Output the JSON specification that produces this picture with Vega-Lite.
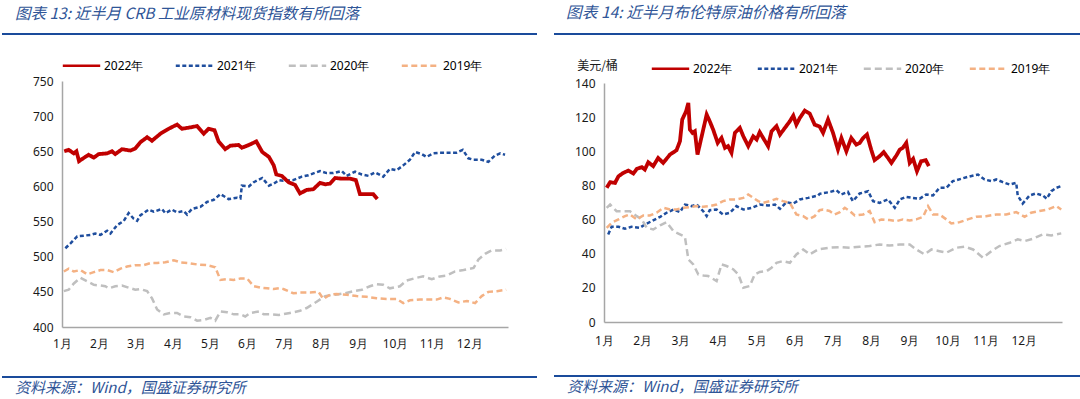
{
  "$schema": "https://vega.github.io/schema/vega-lite/v6.json",
  "background": "white",
  "padding": {"left": 2, "top": 5, "right": 0, "bottom": 0},
  "config": {
    "view": {"stroke": null},
    "font": "Noto Sans",
    "axis": {
      "domainColor": "#A6A6A6",
      "domainWidth": 1.5,
      "ticks": false,
      "grid": false,
      "labelColor": "#1a1a1a",
      "labelFont": "Noto Sans",
      "labelFontSize": 12,
      "labelPadding": 9,
      "title": null
    },
    "legend": {
      "orient": "none",
      "direction": "horizontal",
      "symbolType": "stroke",
      "symbolSize": 1400,
      "symbolStrokeWidth": 2.6,
      "labelFont": "Noto Sans",
      "labelFontSize": 12,
      "labelColor": "#000000",
      "labelOffset": 2,
      "padding": 0,
      "title": null
    }
  },
  "datasets": {
    "crb": [
      {"year":"2022年","m":1.06,"v":650},{"year":"2022年","m":1.18,"v":652},{"year":"2022年","m":1.32,"v":647},{"year":"2022年","m":1.39,"v":650},{"year":"2022年","m":1.46,"v":636},{"year":"2022年","m":1.63,"v":642},{"year":"2022年","m":1.72,"v":645},{"year":"2022年","m":1.86,"v":641},{"year":"2022年","m":1.99,"v":646},{"year":"2022年","m":2.22,"v":647},{"year":"2022年","m":2.35,"v":650},{"year":"2022年","m":2.44,"v":646},{"year":"2022年","m":2.62,"v":653},{"year":"2022年","m":2.85,"v":651},{"year":"2022年","m":2.98,"v":654},{"year":"2022年","m":3.12,"v":663},{"year":"2022年","m":3.3,"v":670},{"year":"2022年","m":3.43,"v":665},{"year":"2022年","m":3.66,"v":675},{"year":"2022年","m":3.88,"v":682},{"year":"2022年","m":4.11,"v":688},{"year":"2022年","m":4.24,"v":682},{"year":"2022年","m":4.47,"v":684},{"year":"2022年","m":4.65,"v":686},{"year":"2022年","m":4.83,"v":675},{"year":"2022年","m":4.96,"v":682},{"year":"2022年","m":5.12,"v":680},{"year":"2022年","m":5.23,"v":664},{"year":"2022年","m":5.41,"v":653},{"year":"2022年","m":5.55,"v":658},{"year":"2022年","m":5.77,"v":659},{"year":"2022年","m":5.86,"v":655},{"year":"2022年","m":6.05,"v":659},{"year":"2022年","m":6.25,"v":664},{"year":"2022年","m":6.41,"v":649},{"year":"2022年","m":6.59,"v":642},{"year":"2022年","m":6.72,"v":630},{"year":"2022年","m":6.79,"v":617},{"year":"2022年","m":6.94,"v":615},{"year":"2022年","m":7.12,"v":606},{"year":"2022年","m":7.3,"v":602},{"year":"2022年","m":7.43,"v":590},{"year":"2022年","m":7.61,"v":595},{"year":"2022年","m":7.79,"v":596},{"year":"2022年","m":7.97,"v":605},{"year":"2022年","m":8.11,"v":603},{"year":"2022年","m":8.24,"v":604},{"year":"2022年","m":8.38,"v":612},{"year":"2022年","m":8.56,"v":611},{"year":"2022年","m":8.78,"v":611},{"year":"2022年","m":8.94,"v":609},{"year":"2022年","m":9.05,"v":589},{"year":"2022年","m":9.23,"v":589},{"year":"2022年","m":9.41,"v":589},{"year":"2022年","m":9.52,"v":582},
      {"year":"2021年","m":1.09,"v":512},{"year":"2021年","m":1.23,"v":519},{"year":"2021年","m":1.41,"v":529},{"year":"2021年","m":1.59,"v":530},{"year":"2021年","m":1.77,"v":531},{"year":"2021年","m":1.9,"v":533},{"year":"2021年","m":2.04,"v":531},{"year":"2021年","m":2.22,"v":537},{"year":"2021年","m":2.31,"v":533},{"year":"2021年","m":2.49,"v":545},{"year":"2021年","m":2.67,"v":551},{"year":"2021年","m":2.8,"v":562},{"year":"2021年","m":2.94,"v":554},{"year":"2021年","m":3.03,"v":551},{"year":"2021年","m":3.12,"v":559},{"year":"2021年","m":3.34,"v":567},{"year":"2021年","m":3.48,"v":564},{"year":"2021年","m":3.7,"v":568},{"year":"2021年","m":3.79,"v":562},{"year":"2021年","m":3.97,"v":567},{"year":"2021年","m":4.11,"v":563},{"year":"2021年","m":4.29,"v":565},{"year":"2021年","m":4.38,"v":560},{"year":"2021年","m":4.51,"v":568},{"year":"2021年","m":4.74,"v":571},{"year":"2021年","m":4.92,"v":578},{"year":"2021年","m":5.1,"v":581},{"year":"2021年","m":5.28,"v":589},{"year":"2021年","m":5.41,"v":585},{"year":"2021年","m":5.5,"v":582},{"year":"2021年","m":5.73,"v":584},{"year":"2021年","m":5.82,"v":583},{"year":"2021年","m":5.86,"v":601},{"year":"2021年","m":6.05,"v":600},{"year":"2021年","m":6.18,"v":606},{"year":"2021年","m":6.41,"v":612},{"year":"2021年","m":6.59,"v":601},{"year":"2021年","m":6.72,"v":604},{"year":"2021年","m":6.86,"v":609},{"year":"2021年","m":6.98,"v":608},{"year":"2021年","m":7.25,"v":609},{"year":"2021年","m":7.48,"v":614},{"year":"2021年","m":7.66,"v":616},{"year":"2021年","m":7.97,"v":622},{"year":"2021年","m":8.15,"v":619},{"year":"2021年","m":8.33,"v":619},{"year":"2021年","m":8.56,"v":622},{"year":"2021年","m":8.69,"v":615},{"year":"2021年","m":8.92,"v":621},{"year":"2021年","m":9.1,"v":617},{"year":"2021年","m":9.28,"v":615},{"year":"2021年","m":9.46,"v":620},{"year":"2021年","m":9.68,"v":614},{"year":"2021年","m":9.86,"v":625},{"year":"2021年","m":10.04,"v":623},{"year":"2021年","m":10.22,"v":630},{"year":"2021年","m":10.4,"v":638},{"year":"2021年","m":10.54,"v":649},{"year":"2021年","m":10.72,"v":646},{"year":"2021年","m":10.85,"v":642},{"year":"2021年","m":11.03,"v":647},{"year":"2021年","m":11.21,"v":648},{"year":"2021年","m":11.48,"v":648},{"year":"2021年","m":11.66,"v":648},{"year":"2021年","m":11.83,"v":652},{"year":"2021年","m":11.98,"v":640},{"year":"2021年","m":12.12,"v":638},{"year":"2021年","m":12.34,"v":638},{"year":"2021年","m":12.52,"v":635},{"year":"2021年","m":12.7,"v":644},{"year":"2021年","m":12.84,"v":647},{"year":"2021年","m":12.97,"v":645},
      {"year":"2020年","m":1.05,"v":451},{"year":"2020年","m":1.18,"v":453},{"year":"2020年","m":1.32,"v":462},{"year":"2020年","m":1.5,"v":470},{"year":"2020年","m":1.68,"v":465},{"year":"2020年","m":1.86,"v":460},{"year":"2020年","m":2.04,"v":459},{"year":"2020年","m":2.17,"v":458},{"year":"2020年","m":2.26,"v":455},{"year":"2020年","m":2.44,"v":458},{"year":"2020年","m":2.62,"v":459},{"year":"2020年","m":2.8,"v":456},{"year":"2020年","m":2.98,"v":453},{"year":"2020年","m":3.12,"v":454},{"year":"2020年","m":3.3,"v":451},{"year":"2020年","m":3.43,"v":441},{"year":"2020年","m":3.57,"v":425},{"year":"2020年","m":3.75,"v":418},{"year":"2020年","m":3.93,"v":420},{"year":"2020年","m":4.11,"v":420},{"year":"2020年","m":4.29,"v":415},{"year":"2020年","m":4.47,"v":414},{"year":"2020年","m":4.65,"v":409},{"year":"2020年","m":4.83,"v":410},{"year":"2020年","m":5.01,"v":413},{"year":"2020年","m":5.14,"v":409},{"year":"2020年","m":5.28,"v":422},{"year":"2020年","m":5.46,"v":421},{"year":"2020年","m":5.64,"v":418},{"year":"2020年","m":5.82,"v":418},{"year":"2020年","m":5.95,"v":415},{"year":"2020年","m":6.09,"v":420},{"year":"2020年","m":6.32,"v":422},{"year":"2020年","m":6.45,"v":418},{"year":"2020年","m":6.63,"v":418},{"year":"2020年","m":6.86,"v":417},{"year":"2020年","m":7.16,"v":420},{"year":"2020年","m":7.43,"v":423},{"year":"2020年","m":7.61,"v":427},{"year":"2020年","m":7.88,"v":436},{"year":"2020年","m":8.11,"v":444},{"year":"2020年","m":8.38,"v":446},{"year":"2020年","m":8.65,"v":448},{"year":"2020年","m":8.87,"v":451},{"year":"2020年","m":9.1,"v":453},{"year":"2020年","m":9.32,"v":458},{"year":"2020年","m":9.5,"v":461},{"year":"2020年","m":9.68,"v":460},{"year":"2020年","m":9.86,"v":455},{"year":"2020年","m":10.13,"v":458},{"year":"2020年","m":10.31,"v":466},{"year":"2020年","m":10.58,"v":470},{"year":"2020年","m":10.76,"v":472},{"year":"2020年","m":10.99,"v":468},{"year":"2020年","m":11.21,"v":472},{"year":"2020年","m":11.39,"v":473},{"year":"2020年","m":11.62,"v":479},{"year":"2020年","m":11.85,"v":481},{"year":"2020年","m":12.12,"v":484},{"year":"2020年","m":12.25,"v":496},{"year":"2020年","m":12.43,"v":504},{"year":"2020年","m":12.61,"v":509},{"year":"2020年","m":12.84,"v":509},{"year":"2020年","m":13.0,"v":511},
      {"year":"2019年","m":1.05,"v":479},{"year":"2019年","m":1.18,"v":483},{"year":"2019年","m":1.32,"v":479},{"year":"2019年","m":1.5,"v":481},{"year":"2019年","m":1.68,"v":475},{"year":"2019年","m":1.86,"v":478},{"year":"2019年","m":2.04,"v":481},{"year":"2019年","m":2.22,"v":481},{"year":"2019年","m":2.4,"v":478},{"year":"2019年","m":2.58,"v":483},{"year":"2019年","m":2.76,"v":486},{"year":"2019年","m":2.98,"v":488},{"year":"2019年","m":3.21,"v":488},{"year":"2019年","m":3.39,"v":491},{"year":"2019年","m":3.57,"v":491},{"year":"2019年","m":3.79,"v":492},{"year":"2019年","m":4.02,"v":495},{"year":"2019年","m":4.2,"v":492},{"year":"2019年","m":4.42,"v":491},{"year":"2019年","m":4.65,"v":489},{"year":"2019年","m":4.92,"v":488},{"year":"2019年","m":5.14,"v":485},{"year":"2019年","m":5.28,"v":467},{"year":"2019年","m":5.46,"v":468},{"year":"2019年","m":5.64,"v":467},{"year":"2019年","m":5.82,"v":469},{"year":"2019年","m":6.0,"v":469},{"year":"2019年","m":6.18,"v":458},{"year":"2019年","m":6.36,"v":456},{"year":"2019年","m":6.54,"v":455},{"year":"2019年","m":6.72,"v":454},{"year":"2019年","m":6.86,"v":455},{"year":"2019年","m":6.98,"v":454},{"year":"2019年","m":7.25,"v":448},{"year":"2019年","m":7.43,"v":449},{"year":"2019年","m":7.7,"v":449},{"year":"2019年","m":7.93,"v":450},{"year":"2019年","m":8.06,"v":440},{"year":"2019年","m":8.24,"v":446},{"year":"2019年","m":8.42,"v":447},{"year":"2019年","m":8.69,"v":446},{"year":"2019年","m":8.96,"v":444},{"year":"2019年","m":9.23,"v":443},{"year":"2019年","m":9.5,"v":441},{"year":"2019年","m":9.77,"v":440},{"year":"2019年","m":10.04,"v":440},{"year":"2019年","m":10.22,"v":434},{"year":"2019年","m":10.4,"v":438},{"year":"2019年","m":10.67,"v":439},{"year":"2019年","m":10.94,"v":439},{"year":"2019年","m":11.12,"v":439},{"year":"2019年","m":11.3,"v":442},{"year":"2019年","m":11.48,"v":440},{"year":"2019年","m":11.71,"v":435},{"year":"2019年","m":11.94,"v":437},{"year":"2019年","m":12.16,"v":434},{"year":"2019年","m":12.34,"v":444},{"year":"2019年","m":12.52,"v":450},{"year":"2019年","m":12.75,"v":451},{"year":"2019年","m":13.0,"v":453}
    ],
    "brent": [
      {"year":"2022年","m":1.07,"v":78.6},{"year":"2022年","m":1.16,"v":81.9},{"year":"2022年","m":1.29,"v":81.5},{"year":"2022年","m":1.38,"v":85.4},{"year":"2022年","m":1.51,"v":87.4},{"year":"2022年","m":1.64,"v":88.7},{"year":"2022年","m":1.77,"v":87.0},{"year":"2022年","m":1.86,"v":89.7},{"year":"2022年","m":1.99,"v":90.7},{"year":"2022年","m":2.07,"v":89.3},{"year":"2022年","m":2.16,"v":93.6},{"year":"2022年","m":2.29,"v":91.3},{"year":"2022年","m":2.42,"v":96.1},{"year":"2022年","m":2.55,"v":93.2},{"year":"2022年","m":2.73,"v":98.1},{"year":"2022年","m":2.9,"v":100.6},{"year":"2022年","m":2.99,"v":105.9},{"year":"2022年","m":3.05,"v":118.6},{"year":"2022年","m":3.15,"v":123.4},{"year":"2022年","m":3.21,"v":128.3},{"year":"2022年","m":3.25,"v":112.7},{"year":"2022年","m":3.32,"v":110.8},{"year":"2022年","m":3.38,"v":111.7},{"year":"2022年","m":3.45,"v":98.1},{"year":"2022年","m":3.56,"v":108.8},{"year":"2022年","m":3.69,"v":121.5},{"year":"2022年","m":3.77,"v":117.6},{"year":"2022年","m":3.86,"v":112.7},{"year":"2022年","m":3.98,"v":104.9},{"year":"2022年","m":4.08,"v":107.8},{"year":"2022年","m":4.17,"v":102.0},{"year":"2022年","m":4.25,"v":103.0},{"year":"2022年","m":4.34,"v":99.1},{"year":"2022年","m":4.43,"v":110.8},{"year":"2022年","m":4.56,"v":113.7},{"year":"2022年","m":4.65,"v":108.8},{"year":"2022年","m":4.78,"v":103.0},{"year":"2022年","m":4.91,"v":108.8},{"year":"2022年","m":5.0,"v":106.9},{"year":"2022年","m":5.08,"v":111.2},{"year":"2022年","m":5.17,"v":107.8},{"year":"2022年","m":5.3,"v":103.0},{"year":"2022年","m":5.39,"v":111.7},{"year":"2022年","m":5.52,"v":114.7},{"year":"2022年","m":5.61,"v":109.8},{"year":"2022年","m":5.74,"v":113.7},{"year":"2022年","m":5.87,"v":117.6},{"year":"2022年","m":5.96,"v":120.9},{"year":"2022年","m":6.04,"v":115.6},{"year":"2022年","m":6.13,"v":119.5},{"year":"2022年","m":6.26,"v":123.8},{"year":"2022年","m":6.39,"v":122.1},{"year":"2022年","m":6.52,"v":115.6},{"year":"2022年","m":6.65,"v":114.5},{"year":"2022年","m":6.74,"v":110.8},{"year":"2022年","m":6.87,"v":118.6},{"year":"2022年","m":7.0,"v":110.8},{"year":"2022年","m":7.13,"v":101.0},{"year":"2022年","m":7.22,"v":107.8},{"year":"2022年","m":7.35,"v":100.0},{"year":"2022年","m":7.48,"v":107.8},{"year":"2022年","m":7.61,"v":103.9},{"year":"2022年","m":7.7,"v":104.9},{"year":"2022年","m":7.79,"v":107.8},{"year":"2022年","m":7.89,"v":109.8},{"year":"2022年","m":8.0,"v":101.0},{"year":"2022年","m":8.09,"v":94.8},{"year":"2022年","m":8.22,"v":97.1},{"year":"2022年","m":8.33,"v":99.5},{"year":"2022年","m":8.44,"v":96.1},{"year":"2022年","m":8.53,"v":93.2},{"year":"2022年","m":8.66,"v":97.5},{"year":"2022年","m":8.75,"v":101.0},{"year":"2022年","m":8.83,"v":102.0},{"year":"2022年","m":8.92,"v":104.9},{"year":"2022年","m":9.01,"v":93.2},{"year":"2022年","m":9.1,"v":95.6},{"year":"2022年","m":9.2,"v":88.3},{"year":"2022年","m":9.31,"v":94.2},{"year":"2022年","m":9.43,"v":94.8},{"year":"2022年","m":9.51,"v":91.3},
      {"year":"2021年","m":1.11,"v":51.3},{"year":"2021年","m":1.2,"v":55.8},{"year":"2021年","m":1.38,"v":55.8},{"year":"2021年","m":1.55,"v":54.6},{"year":"2021年","m":1.72,"v":55.8},{"year":"2021年","m":1.94,"v":55.2},{"year":"2021年","m":2.07,"v":57.1},{"year":"2021年","m":2.25,"v":59.1},{"year":"2021年","m":2.47,"v":61.6},{"year":"2021年","m":2.64,"v":64.0},{"year":"2021年","m":2.82,"v":65.9},{"year":"2021年","m":2.99,"v":64.4},{"year":"2021年","m":3.12,"v":68.8},{"year":"2021年","m":3.29,"v":67.9},{"year":"2021年","m":3.43,"v":68.8},{"year":"2021年","m":3.6,"v":64.9},{"year":"2021年","m":3.69,"v":62.0},{"year":"2021年","m":3.77,"v":65.5},{"year":"2021年","m":3.95,"v":65.9},{"year":"2021年","m":4.12,"v":63.0},{"year":"2021年","m":4.3,"v":64.0},{"year":"2021年","m":4.47,"v":67.9},{"year":"2021年","m":4.65,"v":65.9},{"year":"2021年","m":4.87,"v":66.9},{"year":"2021年","m":5.08,"v":68.8},{"year":"2021年","m":5.3,"v":68.3},{"year":"2021年","m":5.48,"v":68.8},{"year":"2021年","m":5.61,"v":66.3},{"year":"2021年","m":5.78,"v":70.2},{"year":"2021年","m":5.96,"v":69.4},{"year":"2021年","m":6.13,"v":71.8},{"year":"2021年","m":6.35,"v":72.7},{"year":"2021年","m":6.61,"v":74.1},{"year":"2021年","m":6.65,"v":75.1},{"year":"2021年","m":6.91,"v":76.1},{"year":"2021年","m":7.09,"v":77.2},{"year":"2021年","m":7.22,"v":74.7},{"year":"2021年","m":7.39,"v":76.2},{"year":"2021年","m":7.52,"v":70.8},{"year":"2021年","m":7.7,"v":75.3},{"year":"2021年","m":7.92,"v":76.6},{"year":"2021年","m":8.05,"v":70.8},{"year":"2021年","m":8.22,"v":69.8},{"year":"2021年","m":8.44,"v":71.8},{"year":"2021年","m":8.62,"v":66.9},{"year":"2021年","m":8.75,"v":71.8},{"year":"2021年","m":8.92,"v":73.3},{"year":"2021年","m":9.1,"v":72.7},{"year":"2021年","m":9.27,"v":72.2},{"year":"2021年","m":9.44,"v":74.7},{"year":"2021年","m":9.62,"v":74.1},{"year":"2021年","m":9.79,"v":78.6},{"year":"2021年","m":9.97,"v":78.6},{"year":"2021年","m":10.14,"v":82.5},{"year":"2021年","m":10.36,"v":83.9},{"year":"2021年","m":10.53,"v":85.0},{"year":"2021年","m":10.8,"v":86.4},{"year":"2021年","m":10.97,"v":83.5},{"year":"2021年","m":11.15,"v":82.5},{"year":"2021年","m":11.28,"v":83.5},{"year":"2021年","m":11.45,"v":81.9},{"year":"2021年","m":11.63,"v":80.5},{"year":"2021年","m":11.8,"v":81.5},{"year":"2021年","m":11.84,"v":74.1},{"year":"2021年","m":11.97,"v":69.4},{"year":"2021年","m":12.15,"v":74.1},{"year":"2021年","m":12.32,"v":75.3},{"year":"2021年","m":12.5,"v":74.1},{"year":"2021年","m":12.6,"v":72.2},{"year":"2021年","m":12.72,"v":76.6},{"year":"2021年","m":12.85,"v":78.6},{"year":"2021年","m":12.98,"v":79.6},
      {"year":"2020年","m":1.07,"v":66.9},{"year":"2020年","m":1.16,"v":68.8},{"year":"2020年","m":1.33,"v":64.9},{"year":"2020年","m":1.51,"v":64.9},{"year":"2020年","m":1.68,"v":64.9},{"year":"2020年","m":1.86,"v":62.0},{"year":"2020年","m":1.99,"v":60.1},{"year":"2020年","m":2.12,"v":55.2},{"year":"2020年","m":2.29,"v":54.2},{"year":"2020年","m":2.47,"v":56.6},{"year":"2020年","m":2.64,"v":58.5},{"year":"2020年","m":2.82,"v":53.2},{"year":"2020年","m":2.99,"v":51.3},{"year":"2020年","m":3.12,"v":49.9},{"year":"2020年","m":3.21,"v":36.7},{"year":"2020年","m":3.34,"v":33.7},{"year":"2020年","m":3.47,"v":27.9},{"year":"2020年","m":3.6,"v":27.3},{"year":"2020年","m":3.73,"v":26.9},{"year":"2020年","m":3.95,"v":24.0},{"year":"2020年","m":4.08,"v":33.7},{"year":"2020年","m":4.21,"v":32.8},{"year":"2020年","m":4.39,"v":30.8},{"year":"2020年","m":4.52,"v":27.9},{"year":"2020年","m":4.65,"v":20.1},{"year":"2020年","m":4.82,"v":21.1},{"year":"2020年","m":4.95,"v":27.9},{"year":"2020年","m":5.08,"v":29.3},{"year":"2020年","m":5.26,"v":29.8},{"year":"2020年","m":5.39,"v":31.8},{"year":"2020年","m":5.52,"v":34.7},{"year":"2020年","m":5.69,"v":35.7},{"year":"2020年","m":5.87,"v":34.7},{"year":"2020年","m":6.04,"v":39.6},{"year":"2020年","m":6.22,"v":42.5},{"year":"2020年","m":6.39,"v":39.6},{"year":"2020年","m":6.61,"v":42.5},{"year":"2020年","m":6.91,"v":43.5},{"year":"2020年","m":7.18,"v":43.9},{"year":"2020年","m":7.44,"v":43.5},{"year":"2020年","m":7.7,"v":44.1},{"year":"2020年","m":7.96,"v":44.5},{"year":"2020年","m":8.22,"v":45.4},{"year":"2020年","m":8.48,"v":44.8},{"year":"2020年","m":8.75,"v":45.4},{"year":"2020年","m":9.01,"v":45.4},{"year":"2020年","m":9.18,"v":42.5},{"year":"2020年","m":9.4,"v":39.6},{"year":"2020年","m":9.58,"v":42.5},{"year":"2020年","m":9.79,"v":41.5},{"year":"2020年","m":9.97,"v":40.6},{"year":"2020年","m":10.23,"v":43.5},{"year":"2020年","m":10.45,"v":44.1},{"year":"2020年","m":10.67,"v":42.5},{"year":"2020年","m":10.93,"v":37.6},{"year":"2020年","m":11.15,"v":41.5},{"year":"2020年","m":11.36,"v":44.5},{"year":"2020年","m":11.63,"v":46.4},{"year":"2020年","m":11.84,"v":48.4},{"year":"2020年","m":12.02,"v":47.4},{"year":"2020年","m":12.24,"v":48.8},{"year":"2020年","m":12.5,"v":51.3},{"year":"2020年","m":12.72,"v":50.7},{"year":"2020年","m":12.98,"v":51.9},
      {"year":"2019年","m":1.07,"v":55.2},{"year":"2019年","m":1.2,"v":58.1},{"year":"2019年","m":1.38,"v":60.1},{"year":"2019年","m":1.55,"v":62.0},{"year":"2019年","m":1.68,"v":63.0},{"year":"2019年","m":1.86,"v":60.1},{"year":"2019年","m":2.03,"v":62.4},{"year":"2019年","m":2.2,"v":62.4},{"year":"2019年","m":2.38,"v":64.0},{"year":"2019年","m":2.55,"v":66.9},{"year":"2019年","m":2.73,"v":65.9},{"year":"2019年","m":2.9,"v":65.9},{"year":"2019年","m":3.08,"v":66.9},{"year":"2019年","m":3.25,"v":67.3},{"year":"2019年","m":3.43,"v":67.9},{"year":"2019年","m":3.6,"v":67.5},{"year":"2019年","m":3.77,"v":67.9},{"year":"2019年","m":3.95,"v":68.8},{"year":"2019年","m":4.12,"v":70.8},{"year":"2019年","m":4.3,"v":71.8},{"year":"2019年","m":4.47,"v":71.8},{"year":"2019年","m":4.65,"v":72.7},{"year":"2019年","m":4.78,"v":74.7},{"year":"2019年","m":4.91,"v":72.7},{"year":"2019年","m":5.04,"v":70.8},{"year":"2019年","m":5.17,"v":69.8},{"year":"2019年","m":5.35,"v":70.8},{"year":"2019年","m":5.52,"v":72.2},{"year":"2019年","m":5.69,"v":70.8},{"year":"2019年","m":5.87,"v":69.8},{"year":"2019年","m":6.04,"v":63.0},{"year":"2019年","m":6.22,"v":62.0},{"year":"2019年","m":6.35,"v":60.1},{"year":"2019年","m":6.52,"v":62.0},{"year":"2019年","m":6.65,"v":65.5},{"year":"2019年","m":6.74,"v":65.9},{"year":"2019年","m":6.91,"v":65.0},{"year":"2019年","m":7.04,"v":63.0},{"year":"2019年","m":7.18,"v":64.4},{"year":"2019年","m":7.31,"v":66.9},{"year":"2019年","m":7.44,"v":65.0},{"year":"2019年","m":7.57,"v":62.4},{"year":"2019年","m":7.79,"v":63.0},{"year":"2019年","m":7.96,"v":65.0},{"year":"2019年","m":8.09,"v":58.5},{"year":"2019年","m":8.27,"v":60.1},{"year":"2019年","m":8.48,"v":59.7},{"year":"2019年","m":8.66,"v":59.1},{"year":"2019年","m":8.83,"v":60.1},{"year":"2019年","m":9.01,"v":59.5},{"year":"2019年","m":9.18,"v":60.1},{"year":"2019年","m":9.36,"v":61.6},{"year":"2019年","m":9.49,"v":67.9},{"year":"2019年","m":9.62,"v":63.0},{"year":"2019年","m":9.79,"v":63.0},{"year":"2019年","m":9.97,"v":60.1},{"year":"2019年","m":10.1,"v":57.7},{"year":"2019年","m":10.32,"v":58.5},{"year":"2019年","m":10.53,"v":60.1},{"year":"2019年","m":10.75,"v":61.6},{"year":"2019年","m":11.01,"v":62.0},{"year":"2019年","m":11.28,"v":63.0},{"year":"2019年","m":11.54,"v":63.0},{"year":"2019年","m":11.8,"v":64.4},{"year":"2019年","m":12.02,"v":61.6},{"year":"2019年","m":12.19,"v":64.0},{"year":"2019年","m":12.41,"v":65.0},{"year":"2019年","m":12.63,"v":65.9},{"year":"2019年","m":12.85,"v":67.9},{"year":"2019年","m":12.98,"v":65.9}
    ]
  },
  "resolve": {"scale": {"color": "independent", "strokeDash": "independent"}, "legend": {"color": "independent", "strokeDash": "independent"}},
  "hconcat": [
    {
      "concat": [
        {
          "width": 535, "height": 2,
          "data": {"values": [{}]},
          "mark": {"type": "point", "opacity": 0, "size": 0},
          "view": {"fill": "#1A4B9B", "stroke": null},
          "title": {"text": "图表 13:  近半月 CRB 工业原材料现货指数有所回落", "anchor": "start", "dx": 13, "offset": 11, "font": "Noto Sans CJK SC", "fontStyle": "italic", "fontWeight": "normal", "fontSize": 15.5, "color": "#2F5597"}
        },
        {
          "concat": [
            {
              "hconcat": [
                {
                  "width": 1, "height": 1,
                  "data": {"values": [{}]},
                  "mark": {"type": "point", "opacity": 0, "size": 0}
                },
                {
                  "width": 446, "height": 246,
                  "data": {"name": "crb"},
                  "encoding": {
                    "x": {"field": "m", "type": "quantitative", "scale": {"domain": [1, 13.05]}, "axis": {"values": [1,2,3,4,5,6,7,8,9,10,11,12], "labelExpr": "datum.value + '月'", "labelFlush": false, "labelOverlap": false, "labelPadding": 11}},
                    "y": {"field": "v", "type": "quantitative", "scale": {"domain": [400, 750]}, "axis": {"values": [400,450,500,550,600,650,700,750], "minExtent": 31, "maxExtent": 31}},
                    "color": {"field": "year", "type": "nominal", "scale": {"domain": ["2022年","2021年","2020年","2019年"], "range": ["#C00000","#1F4E9E","#BFBFBF","#F4B183"]}, "legend": {"legendX": -1, "legendY": -36, "columnPadding": 26}},
                    "strokeDash": {"field": "year", "type": "nominal", "scale": {"domain": ["2022年","2021年","2020年","2019年"], "range": [[1,0],[4,2.5],[7,4],[6,3.5]]}, "legend": {"legendX": -1, "legendY": -36, "columnPadding": 26}},
                    "strokeWidth": {"condition": {"test": "datum.year === '2022年'", "value": 3.8}, "value": 2.5}
                  },
                  "layer": [
                    {"transform": [{"filter": "datum.year !== '2022年'"}], "mark": {"type": "line"}},
                    {"transform": [{"filter": "datum.year === '2022年'"}], "mark": {"type": "line"}}
                  ]
                }
              ],
              "spacing": 28,
              "resolve": {"scale": {"color": "independent", "strokeDash": "independent"}, "legend": {"color": "independent", "strokeDash": "independent"}}
            },
            {
              "width": 535, "height": 2,
              "data": {"values": [{}]},
              "mark": {"type": "point", "opacity": 0, "size": 0},
              "view": {"fill": "#1A4B9B", "stroke": null},
              "title": {"text": "资料来源：Wind，国盛证券研究所", "orient": "bottom", "anchor": "start", "dx": 13, "offset": 3, "font": "Noto Sans CJK SC", "fontStyle": "italic", "fontWeight": "normal", "fontSize": 15, "color": "#2F5597"}
            }
          ],
          "columns": 1, "spacing": 27,
          "resolve": {"scale": {"color": "independent", "strokeDash": "independent"}, "legend": {"color": "independent", "strokeDash": "independent"}}
        }
      ],
      "columns": 1, "spacing": 10,
      "resolve": {"scale": {"color": "independent", "strokeDash": "independent"}, "legend": {"color": "independent", "strokeDash": "independent"}}
    },
    {
      "concat": [
        {
          "width": 526, "height": 2,
          "data": {"values": [{}]},
          "mark": {"type": "point", "opacity": 0, "size": 0},
          "view": {"fill": "#1A4B9B", "stroke": null},
          "title": {"text": "图表 14:  近半月布伦特原油价格有所回落", "anchor": "start", "dx": 12, "offset": 11, "font": "Noto Sans CJK SC", "fontStyle": "italic", "fontWeight": "normal", "fontSize": 15.7, "color": "#2F5597"}
        },
        {
          "concat": [
            {
              "hconcat": [
                {
                  "width": 1, "height": 1,
                  "data": {"values": [{}]},
                  "mark": {"type": "point", "opacity": 0, "size": 0}
                },
                {
                  "width": 458, "height": 239,
                  "data": {"name": "brent"},
                  "encoding": {
                    "x": {"field": "m", "type": "quantitative", "scale": {"domain": [1, 13]}, "axis": {"values": [1,2,3,4,5,6,7,8,9,10,11,12], "labelExpr": "datum.value + '月'", "labelFlush": false, "labelOverlap": false, "labelPadding": 13}},
                    "y": {"field": "v", "type": "quantitative", "scale": {"domain": [0, 140]}, "axis": {"values": [0,20,40,60,80,100,120,140], "minExtent": 32, "maxExtent": 32, "title": "美元/桶", "titleAngle": 0, "titleAlign": "center", "titleBaseline": "middle", "titleX": -7, "titleY": -18, "titleFont": "Noto Sans CJK SC", "titleFontSize": 12, "titleFontWeight": "normal", "titleColor": "#1a1a1a"}},
                    "color": {"field": "year", "type": "nominal", "scale": {"domain": ["2022年","2021年","2020年","2019年"], "range": ["#C00000","#1F4E9E","#BFBFBF","#F4B183"]}, "legend": {"legendX": 46, "legendY": -35, "columnPadding": 19}},
                    "strokeDash": {"field": "year", "type": "nominal", "scale": {"domain": ["2022年","2021年","2020年","2019年"], "range": [[1,0],[4,2.5],[7,4],[6,3.5]]}, "legend": {"legendX": 46, "legendY": -35, "columnPadding": 19}},
                    "strokeWidth": {"condition": {"test": "datum.year === '2022年'", "value": 3.8}, "value": 2.5}
                  },
                  "layer": [
                    {"transform": [{"filter": "datum.year !== '2022年'"}], "mark": {"type": "line"}},
                    {"transform": [{"filter": "datum.year === '2022年'"}], "mark": {"type": "line"}}
                  ]
                }
              ],
              "spacing": 17,
              "resolve": {"scale": {"color": "independent", "strokeDash": "independent"}, "legend": {"color": "independent", "strokeDash": "independent"}}
            },
            {
              "width": 526, "height": 2,
              "data": {"values": [{}]},
              "mark": {"type": "point", "opacity": 0, "size": 0},
              "view": {"fill": "#1A4B9B", "stroke": null},
              "title": {"text": "资料来源：Wind，国盛证券研究所", "orient": "bottom", "anchor": "start", "dx": 13, "offset": 3, "font": "Noto Sans CJK SC", "fontStyle": "italic", "fontWeight": "normal", "fontSize": 15, "color": "#2F5597"}
            }
          ],
          "columns": 1, "spacing": 29,
          "resolve": {"scale": {"color": "independent", "strokeDash": "independent"}, "legend": {"color": "independent", "strokeDash": "independent"}}
        }
      ],
      "columns": 1, "spacing": 13,
      "resolve": {"scale": {"color": "independent", "strokeDash": "independent"}, "legend": {"color": "independent", "strokeDash": "independent"}}
    }
  ],
  "spacing": 17
}
